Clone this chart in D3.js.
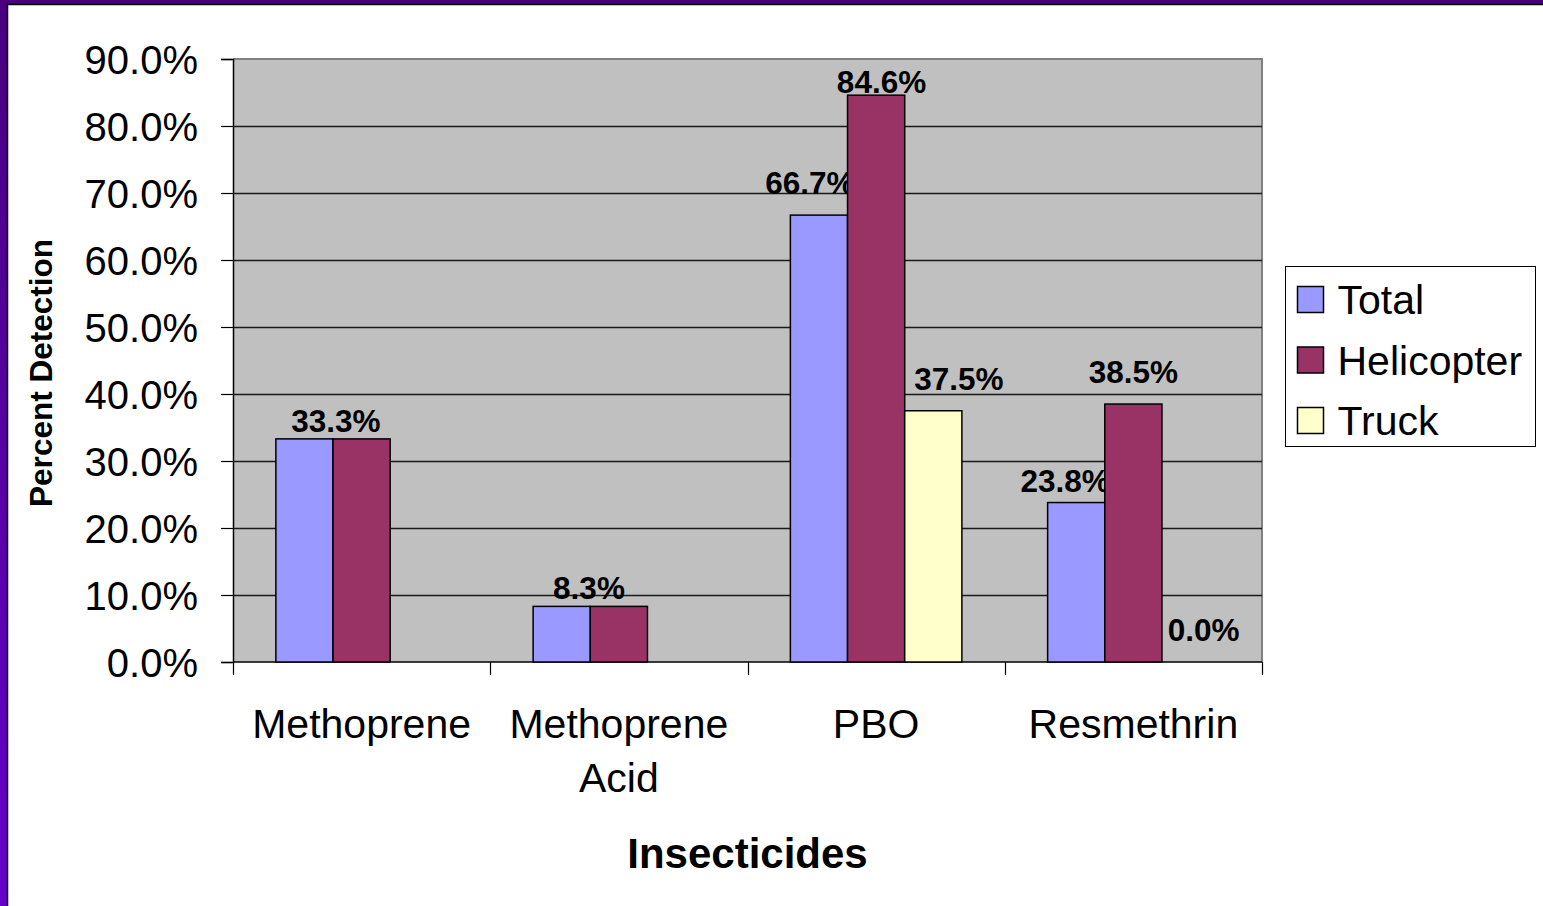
<!DOCTYPE html>
<html>
<head>
<meta charset="utf-8">
<script src="https://cdn.jsdelivr.net/npm/d3@7"></script>
<style>
  body { margin: 0; background: #fff; }
  svg { display: block; font-family: "Liberation Sans", Arial, sans-serif; }
</style>
</head>
<body>
<div id="chart"></div>
<script>
///////////////////////////////////////////////////////////////////////////
///////////////////////////////// Data ////////////////////////////////////
///////////////////////////////////////////////////////////////////////////
var categories = [["Methoprene"], ["Methoprene", "Acid"], ["PBO"], ["Resmethrin"]]
var seriesNames = ["Total", "Helicopter", "Truck"]
var total = [33.3, 8.3, 66.7, 23.8]
var helicopter = [33.3, 8.3, 84.6, 38.5]
var truck = [null, null, 37.5, 0.0]
var yTicks = [0, 10, 20, 30, 40, 50, 60, 70, 80, 90]

var colors = ["#9999ff", "#993366", "#ffffcc"]

// hand placed data labels, [dx, dy] from bar centre / bar top (null = hidden)
var labelNudge = [
  [[31.5, -7], null, null],
  [[27.3, -7], null, null],
  [[-9, -21.5], [5.4, -2], [25.7, -21]],
  [[-11, -11], [0, -21], [13, -21]]
]

///////////////////////////////////////////////////////////////////////////
//////////////////////////////// Setup ////////////////////////////////////
///////////////////////////////////////////////////////////////////////////
var totalWidth = 1543, totalHeight = 906
var plot = { left: 233, top: 59, right: 1262, bottom: 662 }

var svg = d3.select("#chart").append("svg")
  .attr("width", totalWidth)
  .attr("height", totalHeight)

// slide frame (purple bands top & left)
var defs = svg.append("defs")
var grad = defs.append("linearGradient").attr("id", "leftBand")
  .attr("x1", 0).attr("y1", 0).attr("x2", 0).attr("y2", 1)
grad.append("stop").attr("offset", "0%").attr("stop-color", "#48007f")
grad.append("stop").attr("offset", "100%").attr("stop-color", "#6600cc")

svg.append("rect").attr("x", 0).attr("y", 0).attr("width", 7).attr("height", totalHeight)
  .attr("fill", "url(#leftBand)")
svg.append("rect").attr("x", 0).attr("y", 0).attr("width", totalWidth).attr("height", 4)
  .attr("fill", "#48007f")
svg.append("line").attr("x1", 7).attr("x2", totalWidth).attr("y1", 4.5).attr("y2", 4.5)
  .attr("stroke", "#000").attr("stroke-width", 1.5)
svg.append("line").attr("x1", 7.5).attr("x2", 7.5).attr("y1", 4).attr("y2", totalHeight)
  .attr("stroke", "#000").attr("stroke-width", 1.5)

///////////////////////////////////////////////////////////////////////////
//////////////////////////////// Scales ///////////////////////////////////
///////////////////////////////////////////////////////////////////////////
var xScale = d3.scaleBand()
  .domain(d3.range(categories.length))
  .range([plot.left, plot.right])
  .paddingInner(0).paddingOuter(0)

// gap width 150% -> bars take 3 / 4.5 of the band
var xInner = d3.scaleBand()
  .domain(d3.range(seriesNames.length))
  .range([0, xScale.bandwidth()])
  .paddingOuter(0.75).paddingInner(0)

var yScale = d3.scaleLinear()
  .domain([0, 90])
  .range([plot.bottom, plot.top])

///////////////////////////////////////////////////////////////////////////
//////////////////////////////// Plot area ////////////////////////////////
///////////////////////////////////////////////////////////////////////////
svg.append("rect")
  .attr("x", plot.left).attr("y", plot.top)
  .attr("width", plot.right - plot.left).attr("height", plot.bottom - plot.top)
  .attr("fill", "#c0c0c0")
svg.append("path")
  .attr("d", "M" + plot.left + "," + plot.top + "H" + plot.right + "V" + plot.bottom)
  .attr("fill", "none").attr("stroke", "#808080").attr("stroke-width", 2)

svg.append("g").selectAll("line").data(yTicks.slice(1, -1)).enter().append("line")
  .attr("x1", plot.left).attr("x2", plot.right)
  .attr("y1", d => Math.round(yScale(d)) + 0.5).attr("y2", d => Math.round(yScale(d)) + 0.5)
  .attr("stroke", "#1a1a1a").attr("stroke-width", 1.4)

// y axis
var yAxis = svg.append("g")
  .attr("transform", "translate(" + plot.left + ",0)")
  .call(d3.axisLeft(yScale).tickValues(yTicks).tickSize(12).tickPadding(23)
    .tickFormat(d => d.toFixed(1) + "%"))
yAxis.select(".domain").attr("stroke", "#000").attr("stroke-width", 1.5)
yAxis.selectAll(".tick line").attr("stroke", "#000").attr("stroke-width", 1.2)
yAxis.selectAll(".tick text").attr("font-size", 40).attr("fill", "#000")
  .attr("font-family", "'Liberation Sans', Arial, sans-serif").attr("dy", "0.36em")

// x axis (ticks on category boundaries)
var xAxis = svg.append("g")
svg.append("line").attr("x1", plot.left).attr("x2", plot.right)
  .attr("y1", plot.bottom).attr("y2", plot.bottom)
  .attr("stroke", "#000").attr("stroke-width", 1.5)
xAxis.selectAll("line").data(d3.range(categories.length + 1)).enter().append("line")
  .attr("x1", d => Math.round(plot.left + d * xScale.bandwidth()) + 0.5)
  .attr("x2", d => Math.round(plot.left + d * xScale.bandwidth()) + 0.5)
  .attr("y1", plot.bottom).attr("y2", plot.bottom + 13)
  .attr("stroke", "#000").attr("stroke-width", 1.2)

xAxis.selectAll("text.cat").data(categories).enter().append("text")
  .attr("class", "cat")
  .attr("x", (d, i) => xScale(i) + xScale.bandwidth() / 2)
  .attr("y", 738)
  .attr("text-anchor", "middle")
  .attr("font-size", 41)
  .attr("fill", "#000")
  .each(function (d) {
    var t = d3.select(this)
    d.forEach((line, k) => {
      t.append("tspan").attr("x", t.attr("x")).attr("dy", k === 0 ? 0 : 54).text(line)
    })
  })

///////////////////////////////////////////////////////////////////////////
//////////////////////////////// Bars /////////////////////////////////////
///////////////////////////////////////////////////////////////////////////
var seriesValues = [total, helicopter, truck]

seriesValues.forEach((values, s) => {
  var gS = svg.append("g")
  var rows = values.map((v, i) => ({ cat: i, value: v })).filter(d => d.value !== null)

  gS.selectAll("rect").data(rows).enter().append("rect")
    .attr("x", d => xScale(d.cat) + xInner(s))
    .attr("width", xInner.bandwidth())
    .attr("y", d => yScale(d.value))
    .attr("height", d => yScale(0) - yScale(d.value))
    .attr("fill", colors[s])
    .attr("stroke", "#000")
    .attr("stroke-width", 1.5)

  gS.selectAll("text").data(rows.filter(d => labelNudge[d.cat][s])).enter().append("text")
    .attr("x", d => xScale(d.cat) + xInner(s) + xInner.bandwidth() / 2 + labelNudge[d.cat][s][0])
    .attr("y", d => yScale(d.value) + labelNudge[d.cat][s][1])
    .attr("text-anchor", "middle")
    .attr("font-size", 31.5)
    .attr("font-weight", "bold")
    .attr("fill", "#000")
    .text(d => d.value.toFixed(1) + "%")
})

///////////////////////////////////////////////////////////////////////////
//////////////////////////////// Titles ///////////////////////////////////
///////////////////////////////////////////////////////////////////////////
svg.append("text")
  .attr("transform", "translate(52,373) rotate(-90)")
  .attr("text-anchor", "middle")
  .attr("font-size", 31.5)
  .attr("font-weight", "bold")
  .text("Percent Detection")

svg.append("text")
  .attr("x", (plot.left + plot.right) / 2)
  .attr("y", 868)
  .attr("text-anchor", "middle")
  .attr("font-size", 42)
  .attr("font-weight", "bold")
  .text("Insecticides")

///////////////////////////////////////////////////////////////////////////
//////////////////////////////// Legend ///////////////////////////////////
///////////////////////////////////////////////////////////////////////////
var legend = svg.append("g").attr("transform", "translate(1285.5,266.5)")
legend.append("rect").attr("width", 250).attr("height", 180)
  .attr("fill", "#fff").attr("stroke", "#000").attr("stroke-width", 1)

var items = legend.selectAll("g.item").data(seriesNames).enter().append("g")
  .attr("class", "item")
  .attr("transform", (d, i) => "translate(0," + (33 + i * 60.5) + ")")
items.append("rect")
  .attr("x", 12).attr("y", -13).attr("width", 26).attr("height", 26)
  .attr("fill", (d, i) => colors[i]).attr("stroke", "#000").attr("stroke-width", 1.5)
items.append("text")
  .attr("x", 52).attr("y", 0).attr("dy", "0.36em")
  .attr("font-size", 41)
  .text(d => d)
</script>
</body>
</html>
